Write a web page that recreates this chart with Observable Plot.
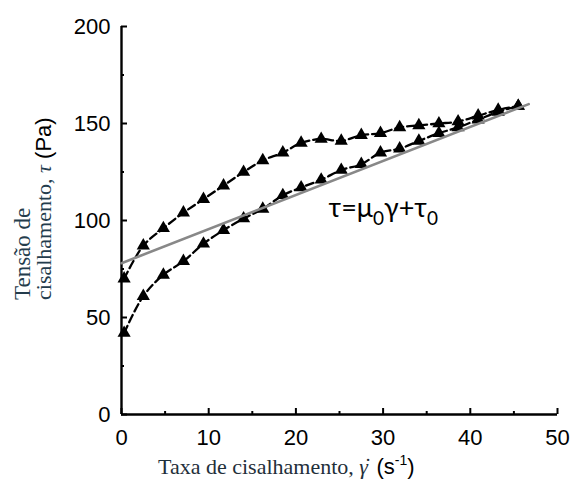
<!DOCTYPE html>
<html>
<head>
<meta charset="utf-8">
<script src="https://cdn.jsdelivr.net/npm/d3@7"></script>
<script src="https://cdn.jsdelivr.net/npm/@observablehq/plot@0.6"></script>
<style>
  html, body { margin: 0; padding: 0; background: #fff; }
</style>
</head>
<body>
<div id="chart"></div>
<script>
// ---- data ----
const shearRate = [0.3, 2.5, 4.8, 7.1, 9.4, 11.7, 14.0, 16.2, 18.5, 20.6, 22.9, 25.2, 27.5, 29.7, 31.9, 34.1, 36.4, 38.6, 40.9, 43.2, 45.5];
const stressUp = [70, 87, 96, 104, 111, 118, 125, 131, 135, 140, 142, 141, 144, 145, 148, 149, 150, 151, 154, 157, 159];
const stressDown = [42, 61, 72, 79, 88, 95, 101, 106, 113, 117, 121, 126, 129, 135, 137, 141, 145, 148, 152, 156, 159];
const fitX = [0, 46.7];
const fitY = [78, 160];
const xTicks = [0, 10, 20, 30, 40, 50];
const xMinor = [5, 15, 25, 35, 45];
const yTicks = [0, 50, 100, 150, 200];
const yMinor = [25, 75, 125, 175];
const annotation = {x: 23.8, y: 101.5};

const up = shearRate.map((x, i) => ({x, y: stressUp[i]}));
const down = shearRate.map((x, i) => ({x, y: stressDown[i]}));
const fit = fitX.map((x, i) => ({x, y: fitY[i]}));

const W = 573, H = 492, mL = 121, mR = 16, mT = 26, mB = 78;
const pxPerX = (W - mL - mR) / 50;
const pxPerY = (H - mT - mB) / 200;
const SANS = "'Liberation Sans', Arial, sans-serif";
const SERIF = "'Liberation Serif', 'Times New Roman', serif";

const chart = Plot.plot({
  width: W, height: H,
  marginLeft: mL, marginRight: mR, marginTop: mT, marginBottom: mB,
  style: {fontFamily: SANS, fontSize: "22px", color: "#000", background: "#fff"},
  x: {domain: [0, 50]},
  y: {domain: [0, 200]},
  marks: [
    Plot.axisX(xTicks, {tickSize: 0, tickPadding: 14.5, label: null, fontSize: 22}),
    Plot.axisY(yTicks, {tickSize: 0, tickPadding: 11, label: null, fontSize: 22}),
    // inward major/minor ticks
    Plot.ruleX(xTicks, {x: d => d, y1: 0, y2: 6 / pxPerY, stroke: "#000", strokeWidth: 2}),
    Plot.ruleX(xMinor, {x: d => d, y1: 0, y2: 3 / pxPerY, stroke: "#000", strokeWidth: 2}),
    Plot.ruleY(yTicks, {y: d => d, x1: 0, x2: 6 / pxPerX, stroke: "#000", strokeWidth: 2}),
    Plot.ruleY(yMinor, {y: d => d, x1: 0, x2: 3 / pxPerX, stroke: "#000", strokeWidth: 2}),
    Plot.ruleY([0], {stroke: "#000", strokeWidth: 2.4}),
    Plot.ruleX([0], {stroke: "#000", strokeWidth: 2.4}),
    Plot.line(up, {x: "x", y: "y", stroke: "#000", strokeWidth: 2.3, strokeDasharray: "8,4", curve: "catmull-rom"}),
    Plot.line(down, {x: "x", y: "y", stroke: "#000", strokeWidth: 2.3, strokeDasharray: "8,4", curve: "catmull-rom"}),
    Plot.dot(up, {x: "x", y: "y", symbol: "triangle", r: 4.9, fill: "#000", stroke: "none"}),
    Plot.dot(down, {x: "x", y: "y", symbol: "triangle", r: 4.9, fill: "#000", stroke: "none"}),
    Plot.line(fit, {x: "x", y: "y", stroke: "#888", strokeWidth: 2.6})
  ]
});

document.getElementById("chart").appendChild(chart);

const svg = d3.select(chart);
const sx = chart.scale("x"), sy = chart.scale("y");

// annotation  τ=μ0γ+τ0
const ann = svg.append("text")
  .attr("x", sx.apply(annotation.x)).attr("y", sy.apply(annotation.y))
  .attr("text-anchor", "start")
  .attr("font-family", "Lato, 'Open Sans', sans-serif").attr("font-size", 27).attr("fill", "#000");
ann.append("tspan").text("τ=μ");
ann.append("tspan").attr("dy", 8).attr("font-size", 19).text("0");
ann.append("tspan").attr("dy", -8).text("γ+τ");
ann.append("tspan").attr("dy", 8).attr("font-size", 19).text("0");

// y axis title (two lines, rotated)
svg.append("text")
  .attr("transform", "translate(30,300) rotate(-90)")
  .attr("text-anchor", "start")
  .attr("font-family", SERIF).attr("font-size", 23).attr("fill", "#243c4c")
  .text("Tensão de");
const y2 = svg.append("text")
  .attr("transform", "translate(51,300) rotate(-90)")
  .attr("text-anchor", "start")
  .attr("font-family", SERIF).attr("font-size", 22).attr("fill", "#243c4c");
y2.append("tspan").text("cisalhamento, ");
y2.append("tspan").attr("font-style", "italic").text("τ");
y2.append("tspan").attr("font-family", SANS).attr("fill", "#000").text(" (Pa)");

// x axis title
const xt = svg.append("text")
  .attr("x", 158).attr("y", 474)
  .attr("text-anchor", "start")
  .attr("font-family", SERIF).attr("font-size", 22).attr("fill", "#1f2f3a");
xt.append("tspan").text("Taxa de cisalhamento, ");
xt.append("tspan").attr("font-style", "italic").attr("dx", "0 -5").attr("dy", "0 -1").text("γ˙");
xt.append("tspan").attr("font-family", SANS).attr("fill", "#000").attr("dy", 1).text(" (s");
xt.append("tspan").attr("font-family", SANS).attr("fill", "#000").attr("font-size", 14).attr("dy", -9).text("-1");
xt.append("tspan").attr("font-family", SANS).attr("fill", "#000").attr("dy", 9).text(")");
</script>
</body>
</html>
